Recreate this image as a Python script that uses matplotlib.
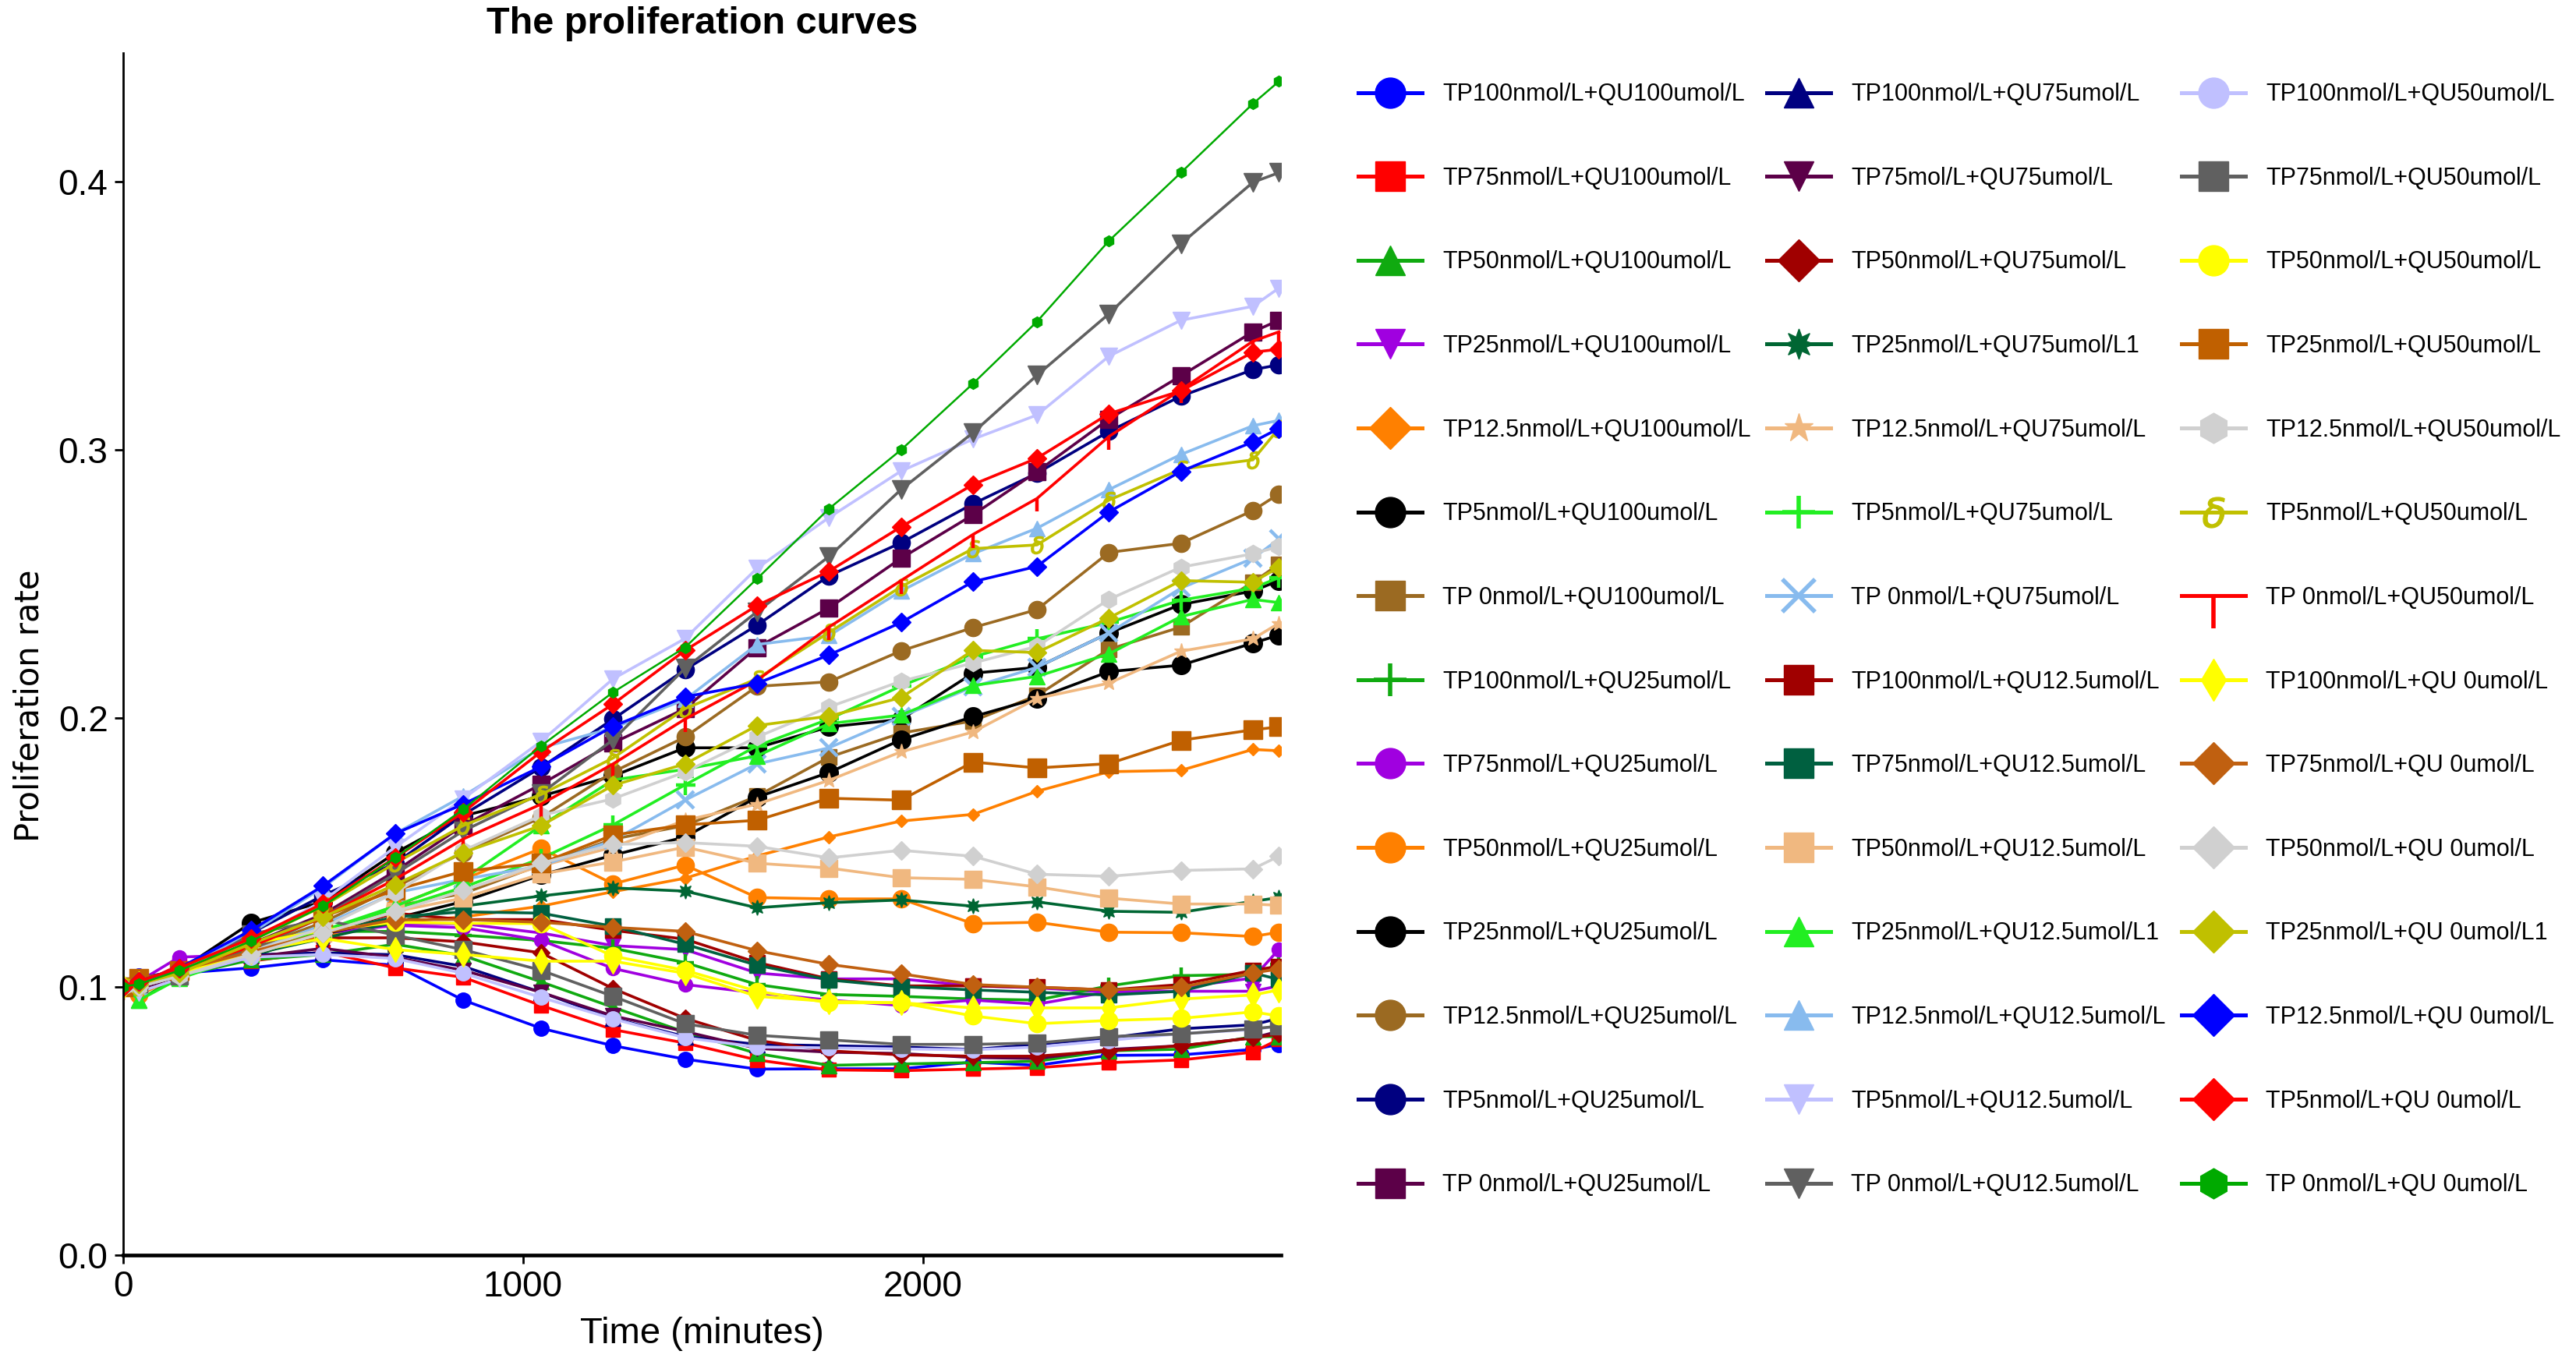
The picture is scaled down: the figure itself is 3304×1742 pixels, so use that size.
import matplotlib
matplotlib.use('Agg')
import matplotlib.pyplot as plt
from matplotlib.lines import Line2D

plt.rcParams['font.family'] = ['Liberation Sans', 'DejaVu Sans']

time_min = [0, 40, 140, 320, 500, 680, 850, 1045, 1225, 1405, 1585, 1765, 1945,
            2125, 2285, 2465, 2645, 2825, 2890]

# every group: TP100, TP75, TP50, TP25, TP12.5, TP5, TP0 (nmol/L)
qu100 = [
    [0.100, 0.104, 0.105, 0.107, 0.110, 0.108, 0.095, 0.0845, 0.078, 0.073, 0.0693, 0.0694, 0.0694, 0.0719, 0.0707, 0.0744, 0.0746, 0.0766, 0.0785],
    [0.100, 0.101, 0.108, 0.1095, 0.113, 0.107, 0.1035, 0.093, 0.084, 0.079, 0.0727, 0.069, 0.0687, 0.0693, 0.0698, 0.0717, 0.0727, 0.0756, 0.0804],
    [0.100, 0.095, 0.104, 0.110, 0.112, 0.1158, 0.1116, 0.1018, 0.0923, 0.0831, 0.0751, 0.0707, 0.0712, 0.0717, 0.0722, 0.0761, 0.0767, 0.0814, 0.0814],
    [0.100, 0.100, 0.106, 0.113, 0.120, 0.1235, 0.1235, 0.120, 0.1153, 0.1138, 0.1051, 0.1029, 0.1029, 0.1003, 0.0996, 0.0979, 0.0983, 0.0983, 0.1003],
    [0.100, 0.098, 0.104, 0.112, 0.119, 0.124, 0.126, 0.130, 0.1354, 0.1404, 0.1487, 0.1558, 0.1617, 0.1642, 0.1728, 0.1801, 0.1806, 0.1884, 0.1879],
    [0.100, 0.102, 0.106, 0.1238, 0.1317, 0.1498, 0.1636, 0.171, 0.1785, 0.189, 0.189, 0.1968, 0.1996, 0.2168, 0.219, 0.2318, 0.2424, 0.2474, 0.2513],
    [0.100, 0.103, 0.106, 0.113, 0.120, 0.130, 0.1347, 0.1454, 0.155, 0.160, 0.171, 0.1855, 0.1945, 0.199, 0.2085, 0.2257, 0.234, 0.2507, 0.2574],
]
qu25 = [
    [0.100, 0.101, 0.105, 0.111, 0.1206, 0.1206, 0.1192, 0.1172, 0.1143, 0.109, 0.1008, 0.0971, 0.0964, 0.0954, 0.095, 0.1003, 0.1041, 0.1046, 0.1083],
    [0.100, 0.102, 0.111, 0.112, 0.120, 0.1228, 0.122, 0.1173, 0.1068, 0.1008, 0.0977, 0.095, 0.093, 0.095, 0.0935, 0.0981, 0.0998, 0.1032, 0.1139],
    [0.100, 0.097, 0.104, 0.112, 0.120, 0.130, 0.140, 0.1515, 0.1383, 0.1453, 0.1332, 0.1327, 0.1327, 0.1235, 0.124, 0.1203, 0.1201, 0.1187, 0.1203],
    [0.100, 0.101, 0.105, 0.1145, 0.1196, 0.1255, 0.1317, 0.1416, 0.149, 0.1558, 0.1706, 0.1798, 0.192, 0.2006, 0.2074, 0.2174, 0.2198, 0.228, 0.231],
    [0.100, 0.101, 0.105, 0.114, 0.124, 0.137, 0.150, 0.163, 0.180, 0.193, 0.2119, 0.2136, 0.2251, 0.2338, 0.2405, 0.2618, 0.2652, 0.2774, 0.2836],
    [0.100, 0.103, 0.106, 0.120, 0.134, 0.1459, 0.164, 0.1817, 0.1997, 0.2181, 0.2347, 0.2531, 0.2654, 0.2799, 0.2913, 0.3069, 0.320, 0.3299, 0.3317],
    [0.100, 0.101, 0.106, 0.116, 0.127, 0.143, 0.160, 0.1754, 0.1908, 0.2036, 0.2264, 0.2411, 0.2596, 0.2758, 0.2919, 0.3115, 0.3276, 0.344, 0.3483],
]
qu75 = [
    [0.100, 0.101, 0.105, 0.1119, 0.1126, 0.1119, 0.1076, 0.0979, 0.0882, 0.0814, 0.0785, 0.078, 0.0775, 0.0766, 0.0785, 0.0809, 0.0843, 0.0858, 0.0882],
    [0.100, 0.099, 0.104, 0.111, 0.1143, 0.1109, 0.1061, 0.0979, 0.0891, 0.0833, 0.077, 0.0756, 0.0751, 0.0736, 0.0732, 0.0766, 0.078, 0.0809, 0.0834],
    [0.100, 0.101, 0.105, 0.113, 0.1182, 0.1182, 0.1167, 0.1126, 0.0993, 0.0882, 0.080, 0.0761, 0.0746, 0.0741, 0.0741, 0.0761, 0.078, 0.0809, 0.0824],
    [0.100, 0.101, 0.104, 0.112, 0.118, 0.124, 0.130, 0.1338, 0.1368, 0.1356, 0.1294, 0.1313, 0.1323, 0.1300, 0.1316, 0.1281, 0.1277, 0.1318, 0.1332],
    [0.100, 0.100, 0.104, 0.112, 0.120, 0.128, 0.136, 0.145, 0.152, 0.162, 0.168, 0.1769, 0.1875, 0.1949, 0.2074, 0.2131, 0.225, 0.2296, 0.2354],
    [0.100, 0.101, 0.105, 0.113, 0.121, 0.129, 0.137, 0.1478, 0.1603, 0.1752, 0.1897, 0.1997, 0.212, 0.2229, 0.2296, 0.2357, 0.244, 0.2485, 0.2524],
    [0.100, 0.100, 0.104, 0.113, 0.123, 0.135, 0.140, 0.145, 0.1545, 0.1695, 0.183, 0.189, 0.2006, 0.2117, 0.219, 0.2318, 0.2485, 0.2596, 0.2668],
]
qu12_5 = [
    [0.100, 0.101, 0.105, 0.113, 0.120, 0.1274, 0.125, 0.125, 0.121, 0.1177, 0.109, 0.1029, 0.1003, 0.1003, 0.0998, 0.0988, 0.1008, 0.1061, 0.1076],
    [0.100, 0.101, 0.105, 0.113, 0.120, 0.126, 0.1279, 0.1274, 0.1225, 0.1158, 0.108, 0.1025, 0.100, 0.0988, 0.0979, 0.0969, 0.0983, 0.1051, 0.1027],
    [0.100, 0.101, 0.105, 0.113, 0.120, 0.128, 0.133, 0.142, 0.1465, 0.152, 0.146, 0.1442, 0.1406, 0.140, 0.1372, 0.133, 0.1308, 0.1308, 0.1303],
    [0.100, 0.095, 0.103, 0.112, 0.121, 0.130, 0.140, 0.160, 0.177, 0.181, 0.186, 0.198, 0.2012, 0.2122, 0.2156, 0.224, 0.2379, 0.2443, 0.2431],
    [0.100, 0.101, 0.106, 0.120, 0.137, 0.157, 0.171, 0.189, 0.1964, 0.207, 0.2275, 0.2308, 0.2474, 0.2613, 0.2708, 0.2852, 0.2983, 0.309, 0.311],
    [0.100, 0.098, 0.103, 0.117, 0.132, 0.152, 0.170, 0.1914, 0.2147, 0.2297, 0.2559, 0.2748, 0.2921, 0.304, 0.313, 0.3349, 0.3483, 0.3535, 0.3603],
    [0.100, 0.100, 0.104, 0.114, 0.126, 0.142, 0.158, 0.172, 0.192, 0.2186, 0.2397, 0.2603, 0.2852, 0.3064, 0.3278, 0.3507, 0.3768, 0.3997, 0.4033],
]
qu50 = [
    [0.100, 0.101, 0.104, 0.111, 0.112, 0.1105, 0.105, 0.096, 0.088, 0.081, 0.0775, 0.0772, 0.0768, 0.0765, 0.0775, 0.080, 0.0825, 0.084, 0.0853],
    [0.100, 0.101, 0.104, 0.1196, 0.125, 0.1192, 0.1138, 0.1061, 0.0964, 0.0862, 0.0819, 0.0802, 0.0785, 0.0785, 0.079, 0.0814, 0.0824, 0.0843, 0.0853],
    [0.100, 0.101, 0.105, 0.116, 0.121, 0.124, 0.1236, 0.1235, 0.1114, 0.1061, 0.0983, 0.094, 0.094, 0.0891, 0.0862, 0.0874, 0.0882, 0.0906, 0.0891],
    [0.100, 0.103, 0.106, 0.115, 0.126, 0.136, 0.143, 0.146, 0.1565, 0.1603, 0.162, 0.1702, 0.1695, 0.1837, 0.1815, 0.1831, 0.1918, 0.1957, 0.1968],
    [0.100, 0.100, 0.104, 0.113, 0.122, 0.135, 0.1507, 0.1638, 0.170, 0.180, 0.193, 0.2042, 0.2138, 0.2206, 0.2268, 0.2443, 0.2563, 0.2613, 0.264],
    [0.100, 0.100, 0.105, 0.117, 0.130, 0.146, 0.160, 0.1716, 0.1852, 0.2036, 0.2147, 0.232, 0.249, 0.2632, 0.2646, 0.2813, 0.2928, 0.2963, 0.308],
    [0.100, 0.102, 0.106, 0.115, 0.126, 0.140, 0.155, 0.168, 0.183, 0.1997, 0.2141, 0.234, 0.2513, 0.2685, 0.2819, 0.305, 0.3224, 0.3405, 0.344],
]
qu0 = [
    [0.100, 0.101, 0.105, 0.113, 0.118, 0.1138, 0.112, 0.1095, 0.1095, 0.105, 0.0964, 0.0945, 0.094, 0.0921, 0.0921, 0.0921, 0.0954, 0.0969, 0.0988],
    [0.100, 0.102, 0.106, 0.113, 0.120, 0.125, 0.125, 0.124, 0.1221, 0.1206, 0.1134, 0.1083, 0.1048, 0.1008, 0.0998, 0.0988, 0.0998, 0.1051, 0.1066],
    [0.100, 0.100, 0.104, 0.112, 0.120, 0.128, 0.1358, 0.146, 0.153, 0.1537, 0.1523, 0.148, 0.1508, 0.1486, 0.1419, 0.1411, 0.1433, 0.1439, 0.1486],
    [0.100, 0.101, 0.105, 0.116, 0.126, 0.138, 0.150, 0.160, 0.175, 0.183, 0.1973, 0.2008, 0.2077, 0.2253, 0.2245, 0.2374, 0.2513, 0.2507, 0.2563],
    [0.100, 0.102, 0.107, 0.121, 0.1376, 0.157, 0.168, 0.182, 0.197, 0.208, 0.213, 0.2236, 0.2357, 0.2509, 0.2566, 0.2769, 0.292, 0.303, 0.308],
    [0.100, 0.102, 0.107, 0.118, 0.131, 0.148, 0.165, 0.1875, 0.2053, 0.2253, 0.242, 0.2548, 0.2713, 0.2871, 0.2969, 0.3135, 0.322, 0.3364, 0.3375],
    [0.100, 0.101, 0.106, 0.117, 0.130, 0.148, 0.166, 0.1897, 0.2097, 0.2264, 0.252, 0.2781, 0.300, 0.3247, 0.3478, 0.3779, 0.4033, 0.429, 0.4373],
]

labels = [
    'TP100nmol/L+QU100umol/L', 'TP75nmol/L+QU100umol/L', 'TP50nmol/L+QU100umol/L',
    'TP25nmol/L+QU100umol/L', 'TP12.5nmol/L+QU100umol/L', 'TP5nmol/L+QU100umol/L',
    'TP 0nmol/L+QU100umol/L',
    'TP100nmol/L+QU25umol/L', 'TP75nmol/L+QU25umol/L', 'TP50nmol/L+QU25umol/L',
    'TP25nmol/L+QU25umol/L', 'TP12.5nmol/L+QU25umol/L', 'TP5nmol/L+QU25umol/L',
    'TP 0nmol/L+QU25umol/L',
    'TP100nmol/L+QU75umol/L', 'TP75mol/L+QU75umol/L', 'TP50nmol/L+QU75umol/L',
    'TP25nmol/L+QU75umol/L1', 'TP12.5nmol/L+QU75umol/L', 'TP5nmol/L+QU75umol/L',
    'TP 0nmol/L+QU75umol/L',
    'TP100nmol/L+QU12.5umol/L', 'TP75nmol/L+QU12.5umol/L', 'TP50nmol/L+QU12.5umol/L',
    'TP25nmol/L+QU12.5umol/L1', 'TP12.5nmol/L+QU12.5umol/L', 'TP5nmol/L+QU12.5umol/L',
    'TP 0nmol/L+QU12.5umol/L',
    'TP100nmol/L+QU50umol/L', 'TP75nmol/L+QU50umol/L', 'TP50nmol/L+QU50umol/L',
    'TP25nmol/L+QU50umol/L', 'TP12.5nmol/L+QU50umol/L', 'TP5nmol/L+QU50umol/L',
    'TP 0nmol/L+QU50umol/L',
    'TP100nmol/L+QU 0umol/L', 'TP75nmol/L+QU 0umol/L', 'TP50nmol/L+QU 0umol/L',
    'TP25nmol/L+QU 0umol/L1', 'TP12.5nmol/L+QU 0umol/L', 'TP5nmol/L+QU 0umol/L',
    'TP 0nmol/L+QU 0umol/L',
]

# styles, same order as labels: (colour, marker, marker size)
styles = [
    ('#0000ff', 'o', 7), ('#ff0000', 's', 6.5), ('#10aa10', '^', 7), ('#a000e0', 'v', 7.5),
    ('#ff8000', 'D', 4), ('#000000', 'o', 8.5), ('#9b6a22', 's', 7.5),
    ('#10aa10', '+', 8), ('#a000e0', 'o', 6.5), ('#ff8000', 'o', 8), ('#000000', 'o', 8.5),
    ('#9b6a22', 'o', 8), ('#000080', 'o', 8), ('#5c0048', 's', 8),
    ('#000080', '^', 7.5), ('#5c0048', 'v', 7), ('#a00000', 'D', 5.5), ('#006633', (8, 1, 0), 7),
    ('#f0b880', '*', 7), ('#22ee22', '+', 9), ('#88bbee', 'x', 8),
    ('#a00000', 's', 7), ('#006040', 's', 7), ('#f0b880', 's', 8), ('#22ee22', '^', 7.5),
    ('#88bbee', '^', 7.5), ('#c0c0ff', 'v', 8), ('#606060', 'v', 8.5),
    ('#c0c0ff', 'o', 7), ('#606060', 's', 8), ('#ffff00', 'o', 8), ('#c06000', 's', 8.5),
    ('#d0d0d0', 'h', 8), ('#c0c000', r'$\delta$', 8), ('#ff0000', 3, 6),
    ('#ffff00', 'd', 8), ('#c06010', 'D', 6), ('#d0d0d0', 'D', 6), ('#c0c000', 'D', 6),
    ('#0000ff', 'D', 6), ('#ff0000', 'D', 6), ('#00aa00', 'h', 5),
]

series = qu100 + qu25 + qu75 + qu12_5 + qu50 + qu0

fig = plt.figure(figsize=(16.525, 8.71), dpi=200)
ax = fig.add_axes([0.0478, 0.0758, 0.4493, 0.8854])

handles = []
for vals, lab, (col, mk, ms) in zip(series, labels, styles):
    lw = 0.9 if lab == 'TP 0nmol/L+QU 0umol/L' else 1.3
    thin = mk in ('+', 'x', 3)
    ax.plot(time_min, vals, color=col, marker=mk, markersize=ms, linewidth=lw,
            markeredgewidth=1.6 if thin else 0.5, markeredgecolor=col)
    handles.append(Line2D([], [], color=col, marker=mk, linewidth=1.8,
                          markersize=14 if not thin else 15,
                          markeredgewidth=2 if thin else 0.5,
                          markeredgecolor=col))

ax.set_xlim(0, 2895)
ax.set_ylim(0, 0.448)
ax.set_xticks([0, 1000, 2000])
ax.set_yticks([0.0, 0.1, 0.2, 0.3, 0.4])
ax.set_yticklabels(['0.0', '0.1', '0.2', '0.3', '0.4'])
ax.tick_params(labelsize=16.5, length=4, width=1.0, pad=3)
ax.spines['top'].set_visible(False)
ax.spines['right'].set_visible(False)
ax.spines['left'].set_linewidth(1.0)
ax.spines['bottom'].set_linewidth(1.7)

ax.set_title('The proliferation curves', fontsize=17.5, fontweight='bold', pad=9)
ax.set_xlabel('Time (minutes)', fontsize=17, labelpad=5.5)
ax.set_ylabel('Proliferation rate', fontsize=15, family=['DejaVu Sans'])
ax.yaxis.set_label_coords(-0.067, 0.457)

fig.legend(handles, labels, ncol=3, loc='upper left', bbox_to_anchor=(0.527, 0.939),
           frameon=False, fontsize=11, handlelength=2.7, handletextpad=0.85,
           columnspacing=0.65, labelspacing=2.54, borderpad=0, borderaxespad=0)

fig.savefig('out.png', dpi=200)
